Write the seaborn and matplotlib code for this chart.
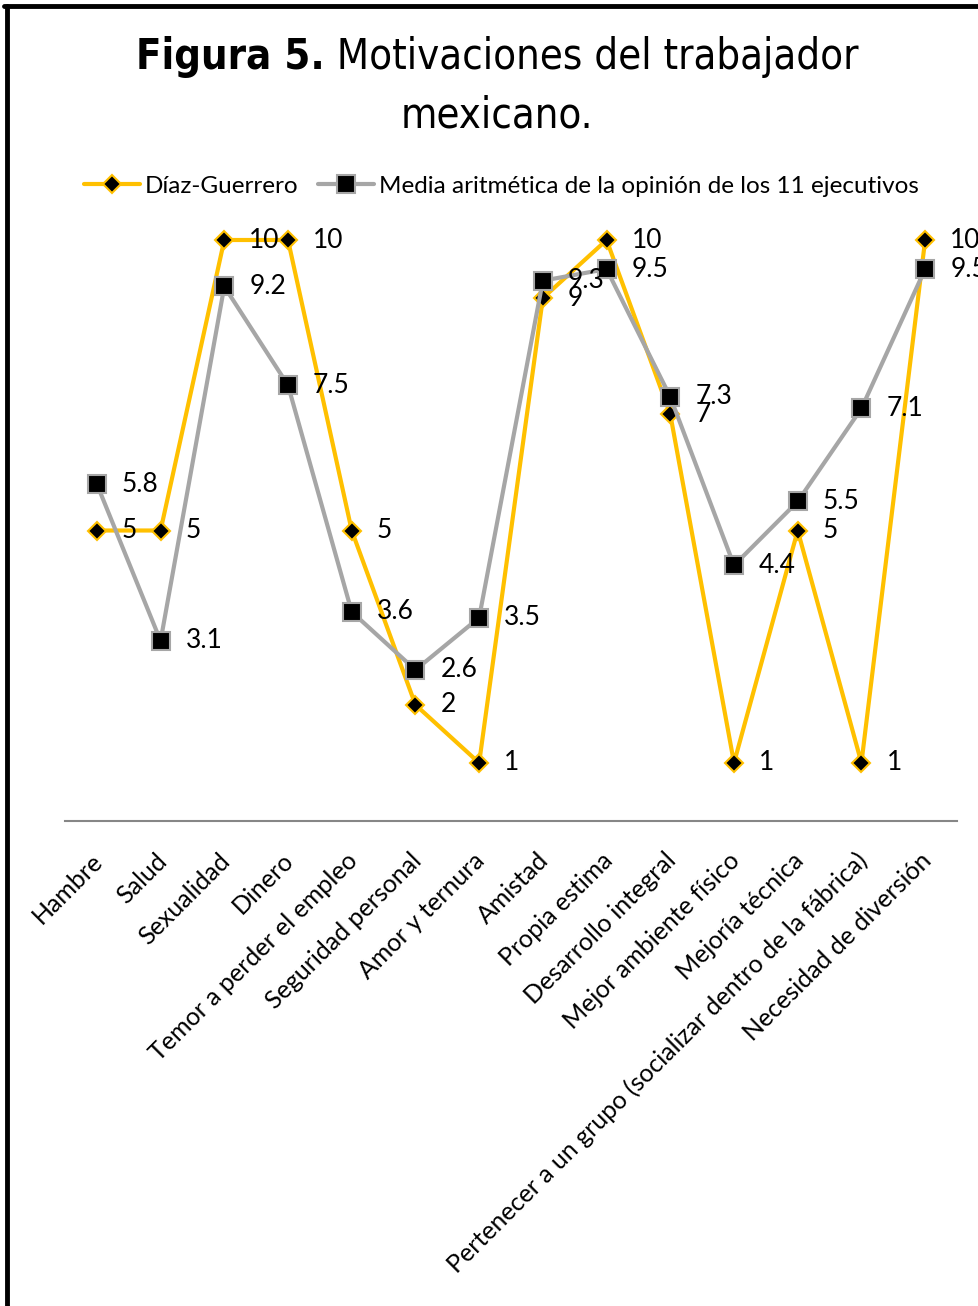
import matplotlib
matplotlib.use("Agg")
import matplotlib.pyplot as plt
import matplotlib.transforms as mtransforms
from matplotlib.lines import Line2D
import seaborn as sns
import pandas as pd

# — Datos —
categorias = [
    "Hambre", "Salud", "Sexualidad", "Dinero", "Temor a perder el empleo",
    "Seguridad personal", "Amor y ternura", "Amistad", "Propia estima",
    "Desarrollo integral", "Mejor ambiente físico", "Mejoría técnica",
    "Pertenecer a un grupo (socializar dentro de la fábrica)",
    "Necesidad de diversión",
]
diaz_guerrero = [5, 5, 10, 10, 5, 2, 1, 9, 10, 7, 1, 5, 1, 10]
media_ejecutivos = [5.8, 3.1, 9.2, 7.5, 3.6, 2.6, 3.5, 9.3, 9.5, 7.3, 4.4, 5.5, 7.1, 9.5]
nombres_series = ["Díaz-Guerrero", "Media aritmética de la opinión de los 11 ejecutivos"]

AMARILLO = "#FFC000"
GRIS = "#A6A6A6"

sns.set_style("white")
plt.rcParams['font.family'] = ['Lato', 'DejaVu Sans']
plt.rcParams['text.color'] = 'black'
plt.rcParams['xtick.color'] = 'black'

fig = plt.figure(figsize=(9.79, 13.06), dpi=100)
W, H = 979, 1306
ax = fig.add_axes([65 / W, 1 - 821 / H, 892 / W, 581 / H])

pos = list(range(len(categorias)))
df = pd.DataFrame({"pos": pos, "diaz": diaz_guerrero, "media": media_ejecutivos})

# — Series —
sns.lineplot(data=df, x="pos", y="diaz", ax=ax, color=AMARILLO, lw=3,
             marker="D", ms=9, mfc="black", mec=AMARILLO, mew=1.5, clip_on=False)
sns.lineplot(data=df, x="pos", y="media", ax=ax, color=GRIS, lw=3,
             marker="s", ms=13, mfc="black", mec=GRIS, mew=1.5, clip_on=False)

for serie in [diaz_guerrero, media_ejecutivos]:
    for i, v in enumerate(serie):
        ax.annotate(f"{v:g}", (i, v), xytext=(18, 0), textcoords="offset points",
                    va="center", ha="left", fontsize=19, color="black",
                    annotation_clip=False)

# — Ejes —
ax.set_xlim(-0.5, 13.5)
ax.set_ylim(0, 10)
ax.set_yticks([])
ax.set_xlabel("")
ax.set_ylabel("")
for s in ["top", "left", "right"]:
    ax.spines[s].set_visible(False)
ax.spines["bottom"].set_color("#868686")
ax.spines["bottom"].set_linewidth(1.5)
ax.set_xticks(pos)
ax.set_xticklabels(categorias, rotation=45, ha="right", rotation_mode="anchor", fontsize=18)
ax.tick_params(axis="x", length=0, pad=20)
desplaz = mtransforms.ScaledTranslation(-6 / 100, 0, fig.dpi_scale_trans)
for lbl in ax.get_xticklabels():
    lbl.set_transform(lbl.get_transform() + desplaz)

# — Leyenda —
handles = ax.lines[:2]
fig.legend(handles, nombres_series, loc="center", bbox_to_anchor=(0.512, 1 - 186 / H),
           ncol=2, frameon=False, fontsize=17.5, handlelength=2.3,
           handletextpad=0.2, columnspacing=0.8)

# — Título (negrita + normal) —
fuente_titulo = dict(family=['DejaVu Sans'], fontstretch='condensed', color='black')
fig.canvas.draw()
r = fig.canvas.get_renderer()
y1 = 1 - 57 / H
t1 = fig.text(0, y1, "Figura 5.", fontsize=30, weight="bold", va="center", **fuente_titulo)
t2 = fig.text(0, y1, " Motivaciones del trabajador", fontsize=30, va="center", **fuente_titulo)
w1 = t1.get_window_extent(r).width
w2 = t2.get_window_extent(r).width
x0 = 497 - (w1 + w2) / 2
t1.set_x(x0 / W)
t2.set_x((x0 + w1) / W)
fig.text(497 / W, 1 - 115 / H, "mexicano.", fontsize=30, ha="center", va="center", **fuente_titulo)

# — Marco —
fig.add_artist(Line2D([4 / W, 1], [1 - 6 / H] * 2, transform=fig.transFigure, color="black", lw=3.5))
fig.add_artist(Line2D([7 / W] * 2, [0, 1 - 6 / H], transform=fig.transFigure, color="black", lw=3.5))

fig.savefig("out.png", dpi=100)
